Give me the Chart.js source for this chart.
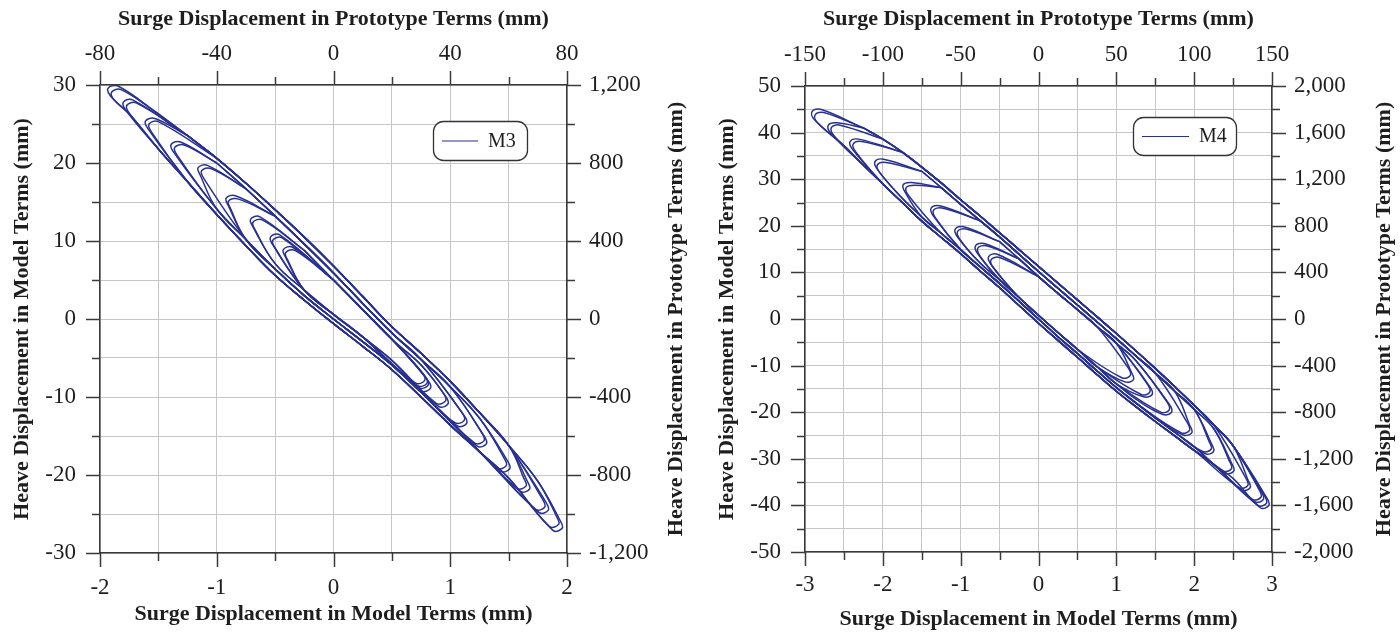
<!DOCTYPE html>
<html><head><meta charset="utf-8">
<script src="https://cdn.jsdelivr.net/npm/chart.js@4.4.1/dist/chart.umd.min.js"></script>
<style>
html,body{margin:0;padding:0;background:#fff;}
#wrap{position:relative;width:1400px;height:634px;overflow:hidden;}
.c{position:absolute;top:0;width:700px;height:634px;}
</style></head><body>
<div id="wrap">
<div class="c" style="left:0"><canvas id="c1" width="700" height="634"></canvas></div>
<div class="c" style="left:700px"><canvas id="c2" width="700" height="634"></canvas></div>
</div>
<script>
// ---------- M3 (left) : model-scale surge (x) / heave (y), mm ----------
const m3RailX = [-1.75,-1.5,-1.25,-1.0,-0.75,-0.5,-0.25,0,0.25,0.5,0.75,1.0,1.25,1.5,1.75];
const m3UpperOuterY = [28.8,26.3,23.5,20.6,17.4,14.0,10.5,6.8,2.9,-1.0,-4.4,-8.0,-12.0,-16.2,-20.8];
const m3UpperMidY   = [28.5,25.9,23.0,20.0,16.7,13.2,9.6,5.9,2.0,-1.8,-5.2,-8.7,-12.7,-16.8,-21.3];
const m3UpperInnerY = [28.2,25.4,22.4,19.3,15.9,12.4,8.8,5.0,1.2,-2.6,-5.9,-9.4,-13.3,-17.4,-21.8];
const m3LowerOuterY = [26.3,21.8,17.6,13.4,9.4,5.6,2.4,-0.6,-3.5,-6.5,-10.0,-13.6,-17.0,-20.4,-23.6];
const m3LowerMidY   = [26.8,22.4,18.2,14.1,10.2,6.4,3.0,0.0,-2.9,-5.9,-9.4,-13.0,-16.4,-19.8,-23.1];
const m3LowerInnerY = [27.2,22.9,18.8,14.8,10.9,7.1,3.7,0.6,-2.3,-5.3,-8.7,-12.4,-15.8,-19.2,-22.6];
const m3TipUpper = [[-1.93,29.6],[-1.90,29.1],[-1.80,27.8],[-1.77,27.4],[-1.61,25.4],[-1.58,25.0],[-1.39,22.4],[-1.36,22.0],[-1.16,19.4],[-1.13,19.0],[-0.92,15.5],[-0.90,15.1],[-0.71,12.8],[-0.69,12.4],[-0.54,10.5],[-0.52,10.1],[-0.43,8.9],[-0.41,8.5]];
const m3TipLower = [[1.96,-26.8],[1.93,-26.3],[1.84,-24.5],[1.81,-24.1],[1.68,-21.8],[1.65,-21.4],[1.51,-19.2],[1.48,-18.8],[1.31,-16.0],[1.29,-15.6],[1.14,-13.4],[1.12,-13.0],[0.98,-10.9],[0.96,-10.5],[0.83,-8.9],[0.81,-8.5],[0.80,-8.25],[0.78,-7.9]];

// ---------- M4 (right) ----------
const m4RailX = [-2.75,-2.5,-2.25,-2.0,-1.75,-1.5,-1.25,-1.0,-0.75,-0.5,-0.25,0,0.25,0.5,0.75,1.0,1.25,1.5,1.75,2.0,2.25,2.5,2.75];
const m4UpperOuterY = [44.3,43.0,41.0,38.6,35.8,32.6,29.2,25.6,22.1,18.5,14.9,11.3,7.7,4.1,0.5,-3.1,-6.8,-10.6,-14.5,-18.5,-22.7,-27.2,-32.5];
const m4UpperMidY   = [44.0,42.5,40.4,37.8,34.9,31.7,28.2,24.6,21.1,17.6,13.9,10.2,6.6,3.0,-0.6,-4.2,-7.9,-11.6,-15.5,-19.4,-23.5,-27.9,-33.1];
const m4UpperInnerY = [43.6,42.0,39.7,37.0,34.0,30.7,27.2,23.6,20.1,16.6,12.9,9.1,5.5,2.0,-1.6,-5.2,-8.9,-12.6,-16.4,-20.3,-24.3,-28.6,-33.6];
const m4LowerOuterY = [41.5,37.2,33.0,29.0,25.0,21.0,17.5,14.0,10.3,6.7,2.9,-0.9,-4.6,-8.2,-11.9,-15.5,-18.8,-22.0,-25.1,-28.2,-31.2,-34.2,-37.2];
const m4LowerMidY   = [42.0,37.9,33.8,29.9,25.9,21.9,18.4,14.9,11.2,7.6,3.8,0.0,-3.8,-7.4,-11.1,-14.7,-18.0,-21.2,-24.3,-27.4,-30.4,-33.4,-36.5];
const m4LowerInnerY = [42.5,38.6,34.6,30.7,26.7,22.7,19.2,15.7,12.0,8.4,4.6,0.8,-2.9,-6.5,-10.2,-13.9,-17.2,-20.4,-23.5,-26.6,-29.6,-32.6,-35.7];
const m4TipUpper = [[-2.91,44.5],[-2.87,43.8],[-2.70,41.6],[-2.66,41.1],[-2.42,38.1],[-2.38,37.6],[-2.10,33.8],[-2.07,33.1],[-1.74,28.8],[-1.70,28.2],[-1.38,23.8],[-1.35,23.3],[-1.07,19.3],[-1.04,18.8],[-0.81,15.7],[-0.78,15.2],[-0.64,13.4],[-0.61,12.7]];
const m4TipLower = [[2.96,-40.0],[2.93,-39.5],[2.89,-38.7],[2.86,-38.2],[2.72,-36.2],[2.69,-35.7],[2.51,-32.6],[2.48,-32.1],[2.25,-28.4],[2.22,-27.9],[1.97,-24.4],[1.94,-23.9],[1.71,-20.0],[1.68,-19.5],[1.46,-16.2],[1.43,-15.7],[1.22,-13.0],[1.18,-12.1]];

// ---------- style ----------
const FONT = "'Liberation Serif', 'Times New Roman', serif";
const BLUE = '#28318f';
const AXIS = '#3a3a3a';
const GRID = '#c6c6c6';
const TEXT = '#1e1e1e';
const TICK_PX = 23, TITLE_PX = 22;

// Each loop: upper band -> lower-right cap -> lower band -> upper-left cap -> back.
// cap = rounding of the loop ends (shape, in axis units of that chart).
function buildLoops(railX, uppers, lowers, tipsU, tipsL, g, cap) {
  const out = [];
  for (let j = 0; j < tipsU.length; j++) {
    const r = Math.floor(j * 3 / tipsU.length);
    const up = uppers[r], lo = lowers[r];
    const xu = tipsU[j][0], yu = tipsU[j][1], xl = tipsL[j][0], yl = tipsL[j][1];
    const U = [], L = [];
    railX.forEach((x, i) => {
      if (x >= xu + g.far && x <= xl - g.near) U.push({x: x, y: up[i]});
      if (x >= xu + g.near && x <= xl - g.far) L.push({x: x, y: lo[i]});
    });
    L.reverse();
    out.push([
      ...U,
      {x: xl - cap.sx, y: yl + cap.dy},
      {x: xl, y: yl},
      {x: xl - cap.hx, y: yl - cap.hy},
      ...L,
      {x: xu + cap.sx, y: yu - cap.dy},
      {x: xu, y: yu},
      {x: xu + cap.hx, y: yu + cap.hy},
      {x: U[0].x, y: U[0].y}
    ]);
  }
  return out;
}

function labelEvery(every) {
  return function (v) {
    const q = v / every;
    return Math.abs(q - Math.round(q)) < 1e-6 ? Math.round(v).toLocaleString('en-US') : '';
  };
}

const tickMarks = {
  id: 'tickMarks',
  afterDraw(chart) {
    const ctx = chart.ctx, a = chart.chartArea;
    ctx.save();
    ctx.strokeStyle = AXIS; ctx.lineWidth = 1.5;
    ['x', 'x2', 'y', 'y2'].forEach(id => {
      const s = chart.scales[id];
      s.ticks.forEach((t, i) => {
        const len = t.label !== '' ? 14 : 8;
        const p = Math.round(s.getPixelForTick(i)) + 0.5;
        ctx.beginPath();
        if (id === 'x') { ctx.moveTo(p, a.bottom); ctx.lineTo(p, a.bottom + len); }
        if (id === 'x2') { ctx.moveTo(p, a.top); ctx.lineTo(p, a.top - len); }
        if (id === 'y') { ctx.moveTo(a.left, p); ctx.lineTo(a.left - len, p); }
        if (id === 'y2') { ctx.moveTo(a.right, p); ctx.lineTo(a.right + len, p); }
        ctx.stroke();
      });
    });
    ctx.restore();
  }
};

const extras = {
  id: 'extras',
  afterDraw(chart) {
    const o = chart.options.plugins.extras, ctx = chart.ctx, a = chart.chartArea;
    ctx.save();
    ctx.font = 'bold ' + TITLE_PX + 'px ' + FONT;
    ctx.fillStyle = TEXT;
    ctx.textAlign = 'center'; ctx.textBaseline = 'middle';
    ctx.translate(o.rightTitleX, (a.top + a.bottom) / 2);
    ctx.rotate(-Math.PI / 2);
    ctx.fillText('Heave Displacement in Prototype Terms (mm)', 0, 0);
    ctx.restore();
    const b = o.box;
    ctx.save();
    ctx.beginPath();
    ctx.roundRect(b.x + 0.5, b.y + 0.5, b.w, b.h, 10);
    ctx.fillStyle = '#fff'; ctx.fill();
    ctx.strokeStyle = '#333'; ctx.lineWidth = 1.3; ctx.stroke();
    ctx.beginPath();
    ctx.moveTo(b.x + 9, b.y + b.h / 2 + 0.5); ctx.lineTo(b.x + b.line, b.y + b.h / 2 + 0.5);
    ctx.strokeStyle = BLUE; ctx.lineWidth = 1.1; ctx.stroke();
    ctx.font = '20px ' + FONT; ctx.fillStyle = TEXT;
    ctx.textAlign = 'left'; ctx.textBaseline = 'middle';
    ctx.fillText(chart.data.datasets[0].label, b.x + b.line + 10, b.y + b.h / 2 + 1);
    ctx.restore();
  }
};

function makeChart(canvas, c) {
  const tickFont = {family: FONT, size: TICK_PX};
  const titleFont = {family: FONT, size: TITLE_PX, weight: 'bold'};
  const loops = buildLoops(c.railX, c.uppers, c.lowers, c.tipsU, c.tipsL, c.gap, c.cap);
  const datasets = loops.map(pts => ({
    label: c.name, data: pts, showLine: true, pointRadius: 0, borderColor: BLUE,
    borderWidth: 1.5, tension: 0.4, fill: false, xAxisID: 'x', yAxisID: 'y'
  }));
  const border = {display: true, color: AXIS, width: 1.5};
  return new Chart(canvas, {
    type: 'scatter',
    data: {datasets},
    options: {
      responsive: false, animation: false, events: [],
      layout: {padding: 0},
      plugins: {legend: {display: false}, tooltip: {enabled: false},
        extras: {rightTitleX: c.rightTitleX, box: c.box}},
      scales: {
        x: {type: 'linear', position: 'bottom', min: c.xMin, max: c.xMax,
          ticks: {stepSize: 0.5, autoSkip: false, maxRotation: 0, maxTicksLimit: 1000, callback: labelEvery(1), font: tickFont, color: TEXT, padding: c.padBottom},
          grid: {color: GRID, lineWidth: 1, drawTicks: false}, border,
          title: {display: true, text: 'Surge Displacement in Model Terms (mm)', font: titleFont, color: TEXT, padding: {top: 0, bottom: c.tpBottom}},
          afterFit(s) { s.height = c.hBottom; }},
        x2: {type: 'linear', position: 'top', min: c.x2Min, max: c.x2Max,
          ticks: {stepSize: c.x2Step, autoSkip: false, maxRotation: 0, maxTicksLimit: 1000, callback: labelEvery(c.x2Every), font: tickFont, color: TEXT, padding: c.padTop},
          grid: {drawOnChartArea: false, drawTicks: false}, border,
          title: {display: true, text: 'Surge Displacement in Prototype Terms (mm)', font: titleFont, color: TEXT, padding: {top: c.tpTop, bottom: 0}},
          afterFit(s) { s.height = c.hTop; }},
        y: {type: 'linear', position: 'left', min: c.yMin, max: c.yMax,
          ticks: {stepSize: 5, autoSkip: false, maxTicksLimit: 1000, callback: labelEvery(10), font: tickFont, color: TEXT, padding: c.padLeft},
          grid: {color: GRID, lineWidth: 1, drawTicks: false}, border,
          title: {display: true, text: 'Heave Displacement in Model Terms (mm)', font: titleFont, color: TEXT, padding: {top: c.tpLeft, bottom: 0}},
          afterFit(s) { s.width = c.wLeft; }},
        y2: {type: 'linear', position: 'right', min: c.y2Min, max: c.y2Max,
          ticks: {stepSize: 200, autoSkip: false, maxTicksLimit: 1000, callback: labelEvery(400), font: tickFont, color: TEXT, padding: c.padRight},
          grid: {drawOnChartArea: false, drawTicks: false}, border,
          title: {display: false},
          afterFit(s) { s.width = c.wRight; }}
      }
    },
    plugins: [tickMarks, extras]
  });
}

makeChart(document.getElementById('c1'), {
  name: 'M3', railX: m3RailX,
  uppers: [m3UpperOuterY, m3UpperMidY, m3UpperInnerY],
  lowers: [m3LowerOuterY, m3LowerMidY, m3LowerInnerY],
  tipsU: m3TipUpper, tipsL: m3TipLower,
  gap: {near: 0.15, far: 0.35},
  cap: {sx: 0.02, dy: 1.0, hx: 0.08, hy: 0.3},
  xMin: -2, xMax: 2, x2Min: -80, x2Max: 80, x2Step: 20, x2Every: 40,
  yMin: -30, yMax: 30, y2Min: -1200, y2Max: 1200,
  wLeft: 100, wRight: 133, hTop: 85, hBottom: 81,
  padBottom: 21, padTop: 17, padLeft: 24, padRight: 22,
  tpBottom: 6, tpTop: 6, tpLeft: 9, rightTitleX: 676,
  box: {x: 433, y: 121, w: 94, h: 39, line: 45}
});

makeChart(document.getElementById('c2'), {
  name: 'M4', railX: m4RailX,
  uppers: [m4UpperOuterY, m4UpperMidY, m4UpperInnerY],
  lowers: [m4LowerOuterY, m4LowerMidY, m4LowerInnerY],
  tipsU: m4TipUpper, tipsL: m4TipLower,
  gap: {near: 0.22, far: 0.45},
  cap: {sx: 0.03, dy: 1.7, hx: 0.11, hy: 0.5},
  xMin: -3, xMax: 3, x2Min: -150, x2Max: 150, x2Step: 25, x2Every: 50,
  yMin: -50, yMax: 50, y2Min: -2000, y2Max: 2000,
  wLeft: 105, wRight: 128, hTop: 86, hBottom: 82,
  padBottom: 19, padTop: 17, padLeft: 24, padRight: 22,
  tpBottom: 1, tpTop: 6, tpLeft: 14, rightTitleX: 684,
  box: {x: 433, y: 117, w: 103, h: 38, line: 56}
});
</script>
</body></html>
